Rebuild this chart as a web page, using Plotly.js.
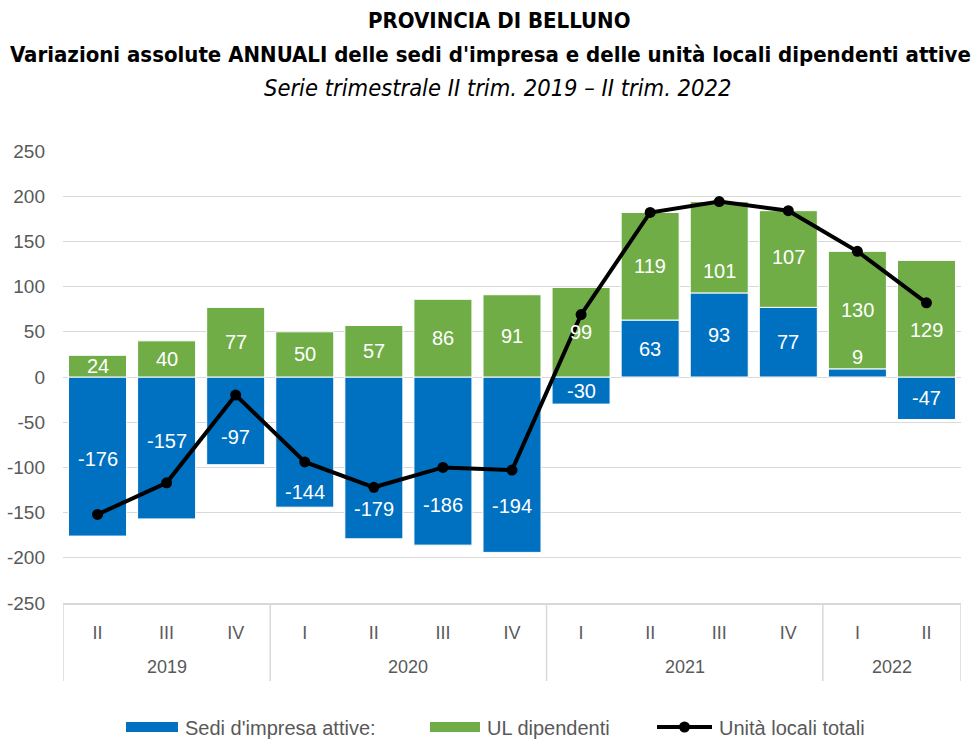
<!DOCTYPE html>
<html>
<head>
<meta charset="utf-8">
<script src="https://cdn.plot.ly/plotly-3.0.1.min.js"></script>
<style>html,body{margin:0;padding:0;background:#fff;}#chart{width:974px;height:742px;}</style>
</head>
<body>
<div id="chart"></div>
<script>
var years = ["2019","2019","2019","2020","2020","2020","2020","2021","2021","2021","2021","2022","2022"];
var quarters = ["II","III","IV","I","II","III","IV","I","II","III","IV","I","II"];
var sedi = [-176,-157,-97,-144,-179,-186,-194,-30,63,93,77,9,-47];
var ulDip = [24,40,77,50,57,86,91,99,119,101,107,130,129];
var ulTot = [-152,-117,-20,-94,-122,-100,-103,69,182,194,184,139,82];
var yTicks = [-250,-200,-150,-100,-50,0,50,100,150,200,250];
var seriesNames = ["Sedi d'impresa attive:", "UL dipendenti", "Unità locali totali"];
var seriesColors = ["#0070C0", "#70AD47", "#000000"];
// style: pixel nudges of data labels (down = positive), as placed in the original chart
var sediLabelNudge = [2, -7, 16, 50, 51, 44, 41, 0, 0, 0, 0, -16, 0];
var ulLabelNudge = [0, 0, 0, 0, 0, 0, 0, 0, 0, 24, -2, 0, 11];

var keys = years.map(function (y, i) { return quarters[i] + " " + y; });
var ARIAL = "Arial, Liberation Sans, sans-serif";
var xFont = {family: ARIAL, size: 18, color: "#595959"};
var yFont = {family: ARIAL, size: 19, color: "#595959"};
var legFont = {family: ARIAL, size: 20, color: "#595959"};
var labelFont = {family: ARIAL, size: 20, color: "#ffffff"};
var titleFont = "DejaVu Sans Condensed, Liberation Sans Narrow, sans-serif";
var grid = "#d9d9d9";

// page-pixel helpers for decorations (plot area: x 63..961, y 151..603)
function px(p) { return (p - 63) / 898; }
function py(p) { return (603 - p) / 452; }

// year groups derived from data
var groups = [];
years.forEach(function (y, i) {
  var g = groups.length ? groups[groups.length - 1] : null;
  if (!g || g.year !== y) groups.push({year: y, start: i, end: i});
  else g.end = i;
});

var shapes = [];
var annotations = [];
var bounds = [-0.5];
groups.forEach(function (g) { bounds.push(g.end + 0.5); });
bounds.forEach(function (b) {
  shapes.push({type: "line", xref: "x", yref: "paper", x0: b, x1: b, y0: 0, y1: py(681),
               line: {color: grid, width: 1.5}});
});
groups.forEach(function (g) {
  annotations.push({text: g.year, xref: "x", yref: "paper", x: (g.start + g.end) / 2, y: 0,
                    yshift: -64, xanchor: "center", yanchor: "middle", showarrow: false, font: xFont});
});
annotations.push(
  {text: "<b>PROVINCIA DI BELLUNO</b>", xref: "paper", yref: "paper", x: px(499), y: 1, xanchor: "center", yanchor: "middle",
   yshift: 151 - 20, showarrow: false, font: {family: titleFont, size: 22, color: "#000000"}},
  {text: "<b>Variazioni assolute ANNUALI delle sedi d'impresa e delle unità locali dipendenti attive</b>", xref: "paper", yref: "paper",
   x: px(490), y: 1, xanchor: "center", yanchor: "middle",
   yshift: 151 - 54, showarrow: false, font: {family: titleFont, size: 22, color: "#000000"}},
  {text: "<i>Serie trimestrale II trim. 2019 – II trim. 2022</i>", xref: "paper", yref: "paper",
   x: px(497), y: 1, xanchor: "center", yanchor: "middle",
   yshift: 151 - 88, showarrow: false, font: {family: titleFont, size: 23.5, color: "#000000"}}
);

// data labels: centre of each stacked segment (from the data), plus the style nudge
sedi.forEach(function (v, i) {
  annotations.push({text: String(v), xref: "x", yref: "y", x: keys[i], y: v / 2,
                    yshift: -sediLabelNudge[i], xanchor: "center", yanchor: "middle",
                    showarrow: false, font: labelFont});
});
ulDip.forEach(function (v, i) {
  var base = sedi[i] > 0 ? sedi[i] : 0;
  annotations.push({text: String(v), xref: "x", yref: "y", x: keys[i], y: base + v / 2,
                    yshift: -ulLabelNudge[i], xanchor: "center", yanchor: "middle",
                    showarrow: false, font: labelFont});
});

// custom legend (wide rectangles like the reference)
var legSym = [[126, 178], [430, 480], [657, 712]];
var legY = 727;
shapes.push({type: "rect", xref: "paper", yref: "paper", x0: px(legSym[0][0]), x1: px(legSym[0][1]),
             y0: py(legY - 5), y1: py(legY + 5), line: {width: 0}, fillcolor: seriesColors[0]});
shapes.push({type: "rect", xref: "paper", yref: "paper", x0: px(legSym[1][0]), x1: px(legSym[1][1]),
             y0: py(legY - 5), y1: py(legY + 5), line: {width: 0}, fillcolor: seriesColors[1]});
shapes.push({type: "line", xref: "paper", yref: "paper", x0: px(legSym[2][0]), x1: px(legSym[2][1]),
             y0: py(legY), y1: py(legY), line: {width: 4, color: seriesColors[2]}});
var mid = (legSym[2][0] + legSym[2][1]) / 2;
shapes.push({type: "circle", xref: "paper", yref: "paper", x0: px(mid - 5.5), x1: px(mid + 5.5),
             y0: py(legY - 5.5), y1: py(legY + 5.5), line: {width: 0}, fillcolor: seriesColors[2]});
seriesNames.forEach(function (n, i) {
  annotations.push({text: n, xref: "paper", yref: "paper", x: px(legSym[i][1] + 5), y: py(legY + 1),
                    xanchor: "left", yanchor: "middle", showarrow: false, font: legFont});
});

var traces = [
  {type: "bar", name: seriesNames[0], x: keys, y: sedi,
   marker: {color: seriesColors[0], line: {color: "#ffffff", width: 1}}, hoverinfo: "y"},
  {type: "bar", name: seriesNames[1], x: keys, y: ulDip,
   marker: {color: seriesColors[1], line: {color: "#ffffff", width: 1}}, hoverinfo: "y"},
  {type: "scatter", mode: "lines+markers", name: seriesNames[2], x: keys, y: ulTot,
   line: {color: seriesColors[2], width: 4},
   marker: {color: seriesColors[2], size: 11, symbol: "circle"},
   hoverinfo: "y"}
];

var layout = {
  width: 974, height: 742,
  margin: {l: 63, r: 13, t: 151, b: 139, autoexpand: false},
  paper_bgcolor: "#ffffff", plot_bgcolor: "#ffffff",
  barmode: "relative", bargap: 0.16,
  showlegend: false,
  xaxis: {type: "category", tickfont: xFont, showgrid: false,
          tickmode: "array", tickvals: keys, ticktext: quarters,
          showline: true, linecolor: grid, linewidth: 1.5, mirror: false,
          ticks: "", ticklabelstandoff: 13, zeroline: false, range: [-0.5, keys.length - 0.5]},
  yaxis: {range: [-250, 250], tickmode: "array", tickvals: yTicks, ticktext: yTicks.map(String),
          tickfont: yFont,
          showgrid: true, gridcolor: grid, gridwidth: 1,
          zeroline: true, zerolinecolor: grid, zerolinewidth: 1,
          ticks: "", ticklabelstandoff: 17, showline: false},
  shapes: shapes,
  annotations: annotations
};

Plotly.newPlot("chart", traces, layout, {displayModeBar: false, staticPlot: true});
</script>
</body>
</html>
